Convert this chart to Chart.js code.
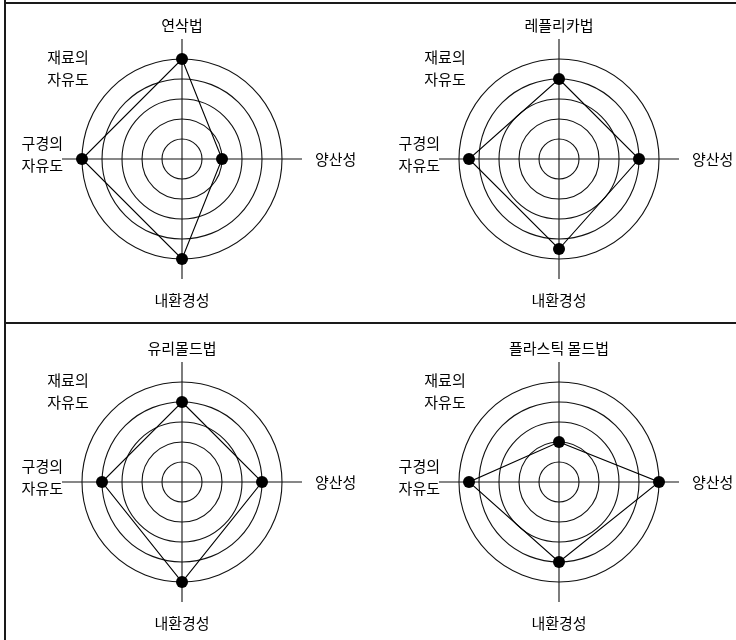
<!DOCTYPE html>
<html lang="ko">
<head>
<meta charset="utf-8">
<script src="https://cdn.jsdelivr.net/npm/chart.js@4/dist/chart.umd.min.js"></script>
<style>
  html, body { margin: 0; padding: 0; background: #fff; }
  #page { position: relative; width: 736px; height: 640px; overflow: hidden; }
  #page canvas { position: absolute; display: block; }
  .rule { position: absolute; background: #1a1a1a; }
</style>
</head>
<body>
<div id="page">
  <canvas id="c0" width="368" height="316" style="left:0;top:0"></canvas>
  <canvas id="c1" width="368" height="316" style="left:368px;top:0"></canvas>
  <canvas id="c2" width="368" height="316" style="left:0;top:323px"></canvas>
  <canvas id="c3" width="368" height="316" style="left:368px;top:323px"></canvas>
  <div class="rule" style="left:4px;top:0;width:2px;height:640px"></div>
  <div class="rule" style="left:4px;top:2px;width:732px;height:2px"></div>
  <div class="rule" style="left:4px;top:322px;width:732px;height:2px"></div>
</div>
<script>
// 축 이름 (위, 오른쪽, 아래, 왼쪽 순서)
const axisLabels = [['재료의', '자유도'], ['양산성'], ['내환경성'], ['구경의', '자유도']];
const methods = ['연삭법', '레플리카법', '유리몰드법', '플라스틱 몰드법'];

// 평가 값 (0~5, 원 하나가 1단계)
const grinding = [5, 2, 5, 5];
const replica = [4, 4, 4.5, 4.5];
const glassMold = [4, 4, 5, 4];
const plasticMold = [2, 5, 4, 4.5];
const seriesList = [grinding, replica, glassMold, plasticMold];

const ringMax = 5;   // 마지막 동심원
const axisMax = 6;   // 축선이 원 밖으로 나가는 길이

const FONT = '"Noto Sans CJK KR", "Noto Sans", sans-serif';

// 축 이름을 스케일 기준으로 그림
const axisText = {
  id: 'axisText',
  afterDraw(chart) {
    const s = chart.scales.r;
    const R = s.getDistanceFromCenterForValue(s.max);
    const cx = s.xCenter, cy = s.yCenter;
    const ctx = chart.ctx;
    const place = [
      { x: cx - 0.95 * R, y: cy - 0.76 * R, align: 'center' },
      { x: cx + R + 13, y: cy, align: 'left' },
      { x: cx, y: cy + R + 21, align: 'center' },
      { x: cx - R + 1, y: cy - 5, align: 'right' }
    ];
    ctx.save();
    ctx.font = '15px ' + FONT;
    ctx.fillStyle = '#000';
    ctx.textBaseline = 'middle';
    chart.data.labels.forEach((lines, i) => {
      const p = place[i];
      ctx.textAlign = p.align;
      lines.forEach((t, k) => {
        ctx.fillText(t, p.x, p.y + (k - (lines.length - 1) / 2) * 22);
      });
    });
    ctx.restore();
  }
};

function makeChart(idx) {
  const left = idx % 2 === 0;
  new Chart(document.getElementById('c' + idx), {
    type: 'radar',
    data: {
      labels: axisLabels,
      datasets: [{
        label: methods[idx],
        data: seriesList[idx],
        borderColor: '#000',
        borderWidth: 1.1,
        fill: false,
        pointRadius: 6,
        pointBackgroundColor: '#000',
        pointBorderColor: '#000',
        pointBorderWidth: 0
      }]
    },
    options: {
      responsive: false,
      animation: false,
      events: [],
      layout: {
        padding: { left: left ? 62 : 71, right: left ? 66 : 57, top: 0, bottom: 37 }
      },
      plugins: {
        legend: { display: false },
        tooltip: { enabled: false },
        title: {
          display: true,
          text: methods[idx],
          color: '#000',
          font: { family: FONT, size: 15, weight: 'normal' },
          padding: { top: 16, bottom: 5 }
        }
      },
      scales: {
        r: {
          min: 0,
          max: axisMax,
          ticks: { display: false, stepSize: 1 },
          pointLabels: { display: false },
          grid: {
            circular: true,
            lineWidth: 1.1,
            color: (c) => (c.tick && c.tick.value > ringMax ? 'rgba(0,0,0,0)' : '#111')
          },
          angleLines: { color: '#111', lineWidth: 1.1 }
        }
      }
    },
    plugins: [axisText]
  });
}

[0, 1, 2, 3].forEach(makeChart);
</script>
</body>
</html>
